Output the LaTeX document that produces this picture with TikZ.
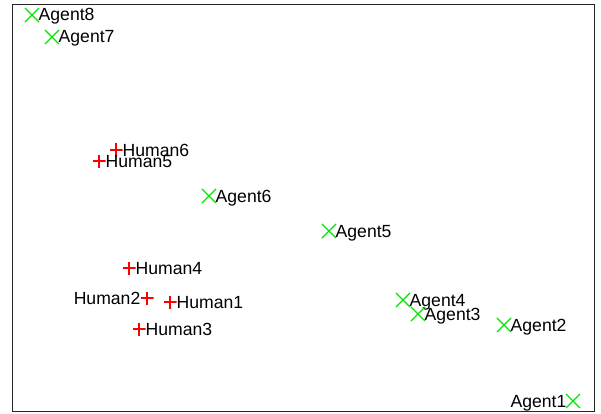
\documentclass[tikz,border=0pt]{standalone}
\usepackage{fontspec}
\setmainfont{Liberation Sans}
\usetikzlibrary{shapes.misc}
\begin{document}
\begin{tikzpicture}[x=1pt,y=-1pt,
  agent/.style={cross out,draw={rgb,255:red,0;green,230;blue,0},line width=1.1pt,minimum size=13pt,inner sep=0pt},
  human/.style={minimum size=13pt,inner sep=0pt,
    path picture={\draw[red,line width=1.1pt]
      (path picture bounding box.north)--(path picture bounding box.south)
      (path picture bounding box.west)--(path picture bounding box.east);}},
  lbl/.style={inner sep=0pt,font=\fontsize{17.6}{19}\selectfont},
  rl/.style={lbl,anchor=base west},
  ll/.style={lbl,anchor=base east}]
\useasboundingbox (0,0) rectangle (601,414);
\draw[line width=1pt,draw={rgb,255:red,38;green,38;blue,38}] (12.5,5) rectangle (594,411);
\node[agent] (a8) at (32,15) {};
\node[rl] (a8l) at ([xshift=6.5pt,yshift=-6pt]a8.center) {Agent8};
\node[agent] (a7) at (52,37) {};
\node[rl] (a7l) at ([xshift=6.5pt,yshift=-6pt]a7.center) {Agent7};
\node[human] (h6) at (116,150) {};
\node[rl] (h6l) at ([xshift=6.5pt,yshift=-6pt]h6.center) {Human6};
\node[human] (h5) at (99,161) {};
\node[rl] (h5l) at ([xshift=6.5pt,yshift=-6pt]h5.center) {Human5};
\node[agent] (a6) at (209,196) {};
\node[rl] (a6l) at ([xshift=6.5pt,yshift=-6pt]a6.center) {Agent6};
\node[agent] (a5) at (329,231) {};
\node[rl] (a5l) at ([xshift=6.5pt,yshift=-6pt]a5.center) {Agent5};
\node[human] (h4) at (129,268) {};
\node[rl] (h4l) at ([xshift=6.5pt,yshift=-6pt]h4.center) {Human4};
\node[human] (h2) at (147,298) {};
\node[ll] (h2l) at ([xshift=-6.5pt,yshift=-6pt]h2.center) {Human2};
\node[human] (h1) at (170,302) {};
\node[rl] (h1l) at ([xshift=6.5pt,yshift=-6pt]h1.center) {Human1};
\node[human] (h3) at (139,329) {};
\node[rl] (h3l) at ([xshift=6.5pt,yshift=-6pt]h3.center) {Human3};
\node[agent] (a4) at (403,300) {};
\node[rl] (a4l) at ([xshift=6.5pt,yshift=-6pt]a4.center) {Agent4};
\node[agent] (a3) at (418,314) {};
\node[rl] (a3l) at ([xshift=6.5pt,yshift=-6pt]a3.center) {Agent3};
\node[agent] (a2) at (504,325) {};
\node[rl] (a2l) at ([xshift=6.5pt,yshift=-6pt]a2.center) {Agent2};
\node[agent] (a1) at (573,401) {};
\node[ll] (a1l) at ([xshift=-6.5pt,yshift=-6pt]a1.center) {Agent1};
\end{tikzpicture}
\end{document}
